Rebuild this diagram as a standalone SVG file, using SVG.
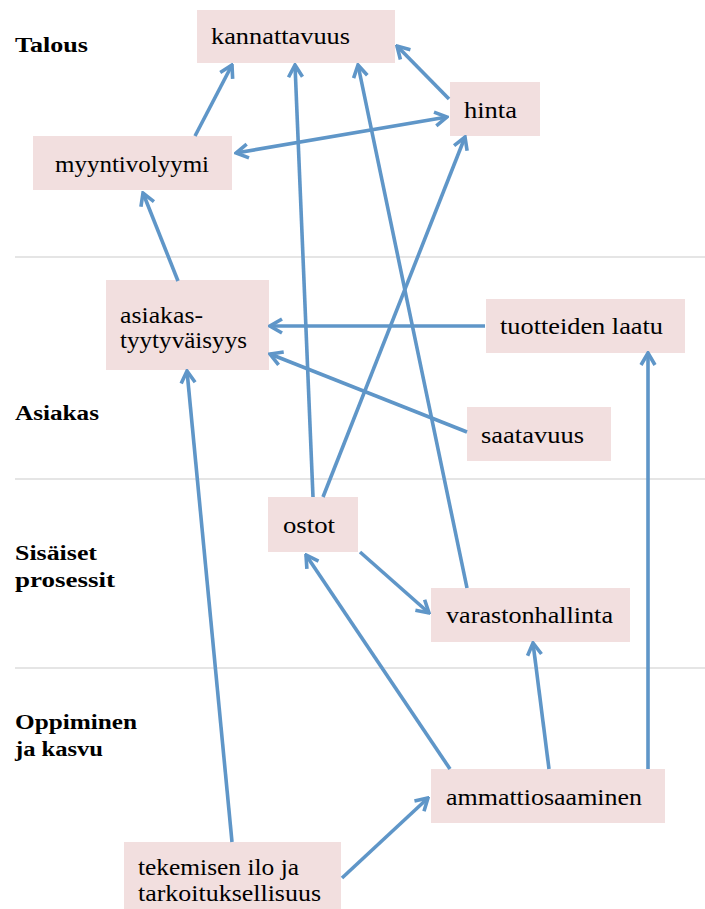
<svg xmlns="http://www.w3.org/2000/svg" width="705" height="909" viewBox="0 0 705 909">
<style>
.box{fill:#f2dfdf}
.t{font-family:"Liberation Serif","DejaVu Serif",serif;font-size:23px;fill:#000}
.lbl{font-family:"Liberation Serif","DejaVu Serif",serif;font-size:20px;font-weight:bold;fill:#000}
.sep{stroke:#dcdcdc;stroke-width:1.5}
.c{stroke:#5f96c8;stroke-width:3.6;fill:none;marker-end:url(#ah)}
</style>
<defs>
<marker id="ah" viewBox="0 0 16 18" refX="14" refY="9" markerWidth="16" markerHeight="18" markerUnits="userSpaceOnUse" orient="auto-start-reverse">
<path d="M2,2 L14,9 L2,16" fill="none" stroke="#5f96c8" stroke-width="3.6" stroke-linejoin="miter"/>
</marker>
</defs>
<rect width="705" height="909" fill="#fff"/>
<g id="separators">
<line class="sep" x1="15" y1="257" x2="705" y2="257"/>
<line class="sep" x1="15" y1="479" x2="705" y2="479"/>
<line class="sep" x1="15" y1="668" x2="705" y2="668"/>
</g>
<g id="labels">
<text class="lbl" x="15" y="52" textLength="73" lengthAdjust="spacingAndGlyphs">Talous</text>
<text class="lbl" x="15" y="420" textLength="84" lengthAdjust="spacingAndGlyphs">Asiakas</text>
<text class="lbl" x="15" y="560" textLength="82" lengthAdjust="spacingAndGlyphs">Sisäiset</text>
<text class="lbl" x="15" y="587" textLength="100" lengthAdjust="spacingAndGlyphs">prosessit</text>
<text class="lbl" x="15" y="729" textLength="122" lengthAdjust="spacingAndGlyphs">Oppiminen</text>
<text class="lbl" x="15" y="756" textLength="88" lengthAdjust="spacingAndGlyphs">ja kasvu</text>
</g>
<g id="kannattavuus"><rect class="box" x="197" y="10" width="198" height="53"/><text class="t" x="211" y="44" textLength="139" lengthAdjust="spacingAndGlyphs">kannattavuus</text></g>
<g id="hinta"><rect class="box" x="450" y="82" width="90" height="54"/><text class="t" x="464" y="118" textLength="53" lengthAdjust="spacingAndGlyphs">hinta</text></g>
<g id="myyntivolyymi"><rect class="box" x="33" y="136" width="199" height="54"/><text class="t" x="55" y="172" textLength="154" lengthAdjust="spacingAndGlyphs">myyntivolyymi</text></g>
<g id="asiakastyytyvaisyys"><rect class="box" x="106" y="280" width="163" height="90"/><text class="t" x="120" y="323" textLength="83" lengthAdjust="spacingAndGlyphs">asiakas-</text><text class="t" x="120" y="348" textLength="127" lengthAdjust="spacingAndGlyphs">tyytyväisyys</text></g>
<g id="tuotteidenlaatu"><rect class="box" x="486" y="299" width="199" height="54"/><text class="t" x="500" y="334" textLength="163" lengthAdjust="spacingAndGlyphs">tuotteiden laatu</text></g>
<g id="saatavuus"><rect class="box" x="467" y="407" width="144" height="54"/><text class="t" x="481" y="443" textLength="103" lengthAdjust="spacingAndGlyphs">saatavuus</text></g>
<g id="ostot"><rect class="box" x="268" y="497" width="90" height="55"/><text class="t" x="283" y="533" textLength="52" lengthAdjust="spacingAndGlyphs">ostot</text></g>
<g id="varastonhallinta"><rect class="box" x="431" y="588" width="199" height="54"/><text class="t" x="446" y="623" textLength="167" lengthAdjust="spacingAndGlyphs">varastonhallinta</text></g>
<g id="ammattiosaaminen"><rect class="box" x="431" y="769" width="234" height="54"/><text class="t" x="446" y="805" textLength="196" lengthAdjust="spacingAndGlyphs">ammattiosaaminen</text></g>
<g id="tekemisenilo"><rect class="box" x="124" y="842" width="217" height="67"/><text class="t" x="138" y="875" textLength="161" lengthAdjust="spacingAndGlyphs">tekemisen ilo ja</text><text class="t" x="138" y="901" textLength="183" lengthAdjust="spacingAndGlyphs">tarkoituksellisuus</text></g>
<g id="connectors">
<line class="c" x1="195" y1="136" x2="232" y2="65"/>
<line class="c" x1="449" y1="99" x2="397" y2="46"/>
<line class="c" x1="236" y1="153" x2="447" y2="117" style="marker-start:url(#ah)"/>
<line class="c" x1="178" y1="281" x2="143" y2="193"/>
<line class="c" x1="313" y1="497" x2="295" y2="65"/>
<line class="c" x1="467" y1="588" x2="358" y2="65"/>
<line class="c" x1="323" y1="497" x2="465" y2="137"/>
<line class="c" x1="485" y1="326" x2="270" y2="326"/>
<line class="c" x1="467" y1="432" x2="270" y2="354"/>
<line class="c" x1="232" y1="842" x2="187" y2="371"/>
<line class="c" x1="648" y1="769" x2="648" y2="353"/>
<line class="c" x1="360" y1="552" x2="429" y2="613"/>
<line class="c" x1="450" y1="769" x2="306" y2="555"/>
<line class="c" x1="549" y1="769" x2="533" y2="643"/>
<line class="c" x1="342" y1="878" x2="428" y2="798"/>
</g>
</svg>
